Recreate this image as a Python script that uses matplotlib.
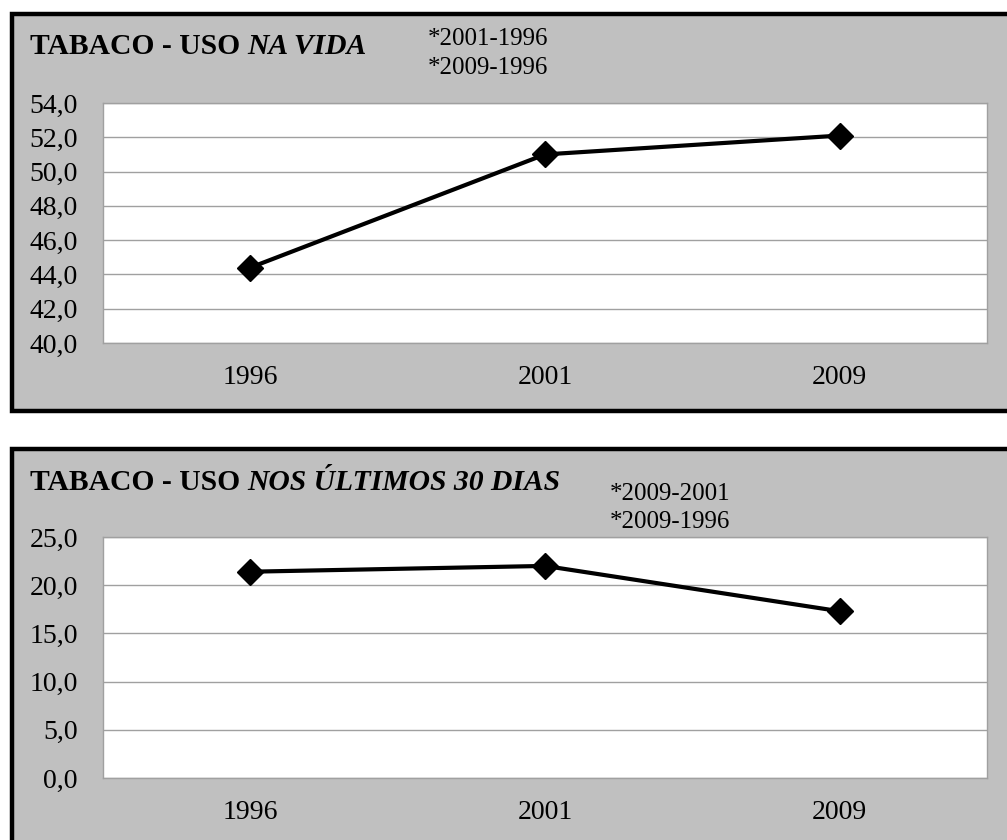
import matplotlib.pyplot as plt
from matplotlib.patches import Rectangle

# survey years and percentages
years = ['1996', '2001', '2009']
uso_vida = [44.4, 51.0, 52.1]
uso_30dias = [21.4, 22.0, 17.3]

W, H = 1007, 840
plt.rcParams['font.family'] = ['Liberation Serif', 'DejaVu Serif']
fig = plt.figure(figsize=(W / 100, H / 100), dpi=100)
fig.patch.set_facecolor('white')

panel_bg = '#c0c0c0'
grid_col = '#a0a0a0'


def px(x0, y0, x1, y1):
    # pixel box (top-left origin) -> figure fraction rect
    return [x0 / W, 1 - y1 / H, (x1 - x0) / W, (y1 - y0) / H]


def panel(y0, y1):
    r = px(12, y0, 1020, y1)
    fig.patches.append(Rectangle((r[0], r[1]), r[2], r[3], transform=fig.transFigure,
                                 facecolor=panel_bg, edgecolor='black', linewidth=3.2,
                                 zorder=0))


def title(y, plain, italic):
    t = fig.text(30 / W, 1 - y / H, plain, fontsize=21.3, fontweight='bold', va='center')
    fig.add_artist(plt.Annotation(italic, xy=(1, 0), xycoords=t, va='bottom', ha='left',
                                  fontsize=21.3, fontweight='bold', style='italic'))


def plot_line(ax, vals, ylim, step):
    ax.set_zorder(2)
    ax.set_facecolor('white')
    ax.plot(range(len(years)), vals, '-D', color='black', lw=3.0,
            markersize=12.8, zorder=5, clip_on=False)
    ax.set_xlim(-0.5, len(years) - 0.5)
    ax.set_ylim(*ylim)
    n = int(round((ylim[1] - ylim[0]) / step))
    ticks = [ylim[0] + i * step for i in range(n + 1)]
    ax.set_yticks(ticks)
    ax.set_yticklabels([('%.1f' % t).replace('.', ',') for t in ticks])
    ax.set_xticks(range(len(years)))
    ax.set_xticklabels(years)
    ax.yaxis.grid(True, color=grid_col, lw=1.0)
    ax.set_axisbelow(True)
    for s in ax.spines.values():
        s.set_color(grid_col)
        s.set_linewidth(1.0)
    ax.tick_params(axis='both', length=0, labelsize=20)
    ax.tick_params(axis='y', pad=18)
    ax.tick_params(axis='x', pad=16)


# top panel
panel(14, 411)
ax1 = fig.add_axes(px(103, 103, 987, 343))
plot_line(ax1, uso_vida, (40, 54), 2)
title(46, 'TABACO - USO ', 'NA VIDA')
fig.text(428 / W, 1 - 39 / H, '*2001-1996', fontsize=18, va='center')
fig.text(428 / W, 1 - 68 / H, '*2009-1996', fontsize=18, va='center')

# bottom panel
panel(449, 850)
ax2 = fig.add_axes(px(103, 537, 987, 778))
plot_line(ax2, uso_30dias, (0, 25), 5)
title(483, 'TABACO - USO ', 'NOS ÚLTIMOS 30 DIAS')
fig.text(610 / W, 1 - 494 / H, '*2009-2001', fontsize=18, va='center')
fig.text(610 / W, 1 - 522 / H, '*2009-1996', fontsize=18, va='center')

fig.savefig('out.png', dpi=100)
